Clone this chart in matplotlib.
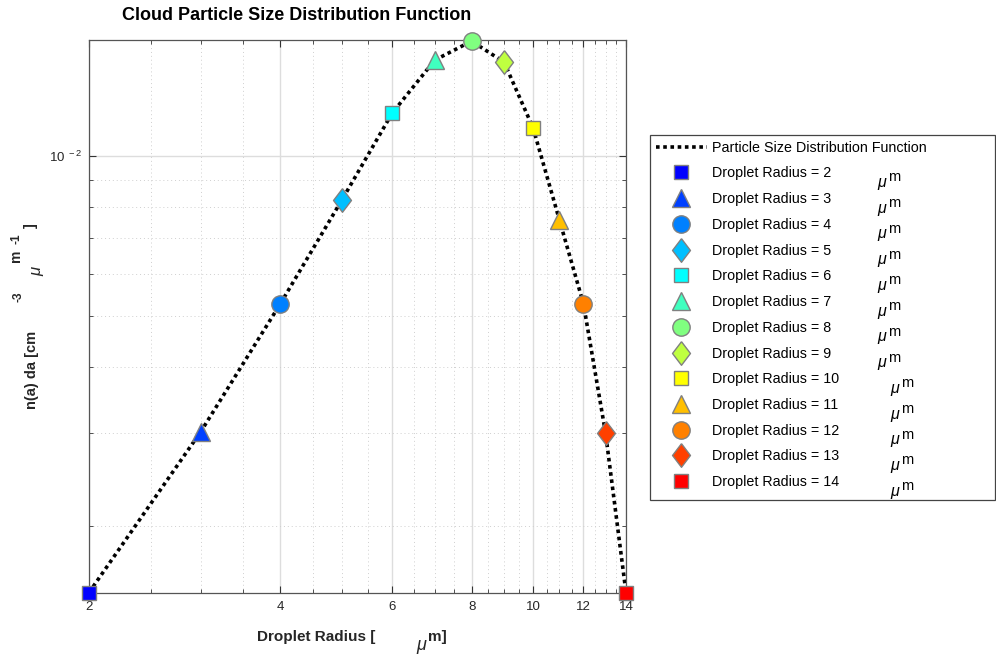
import matplotlib
matplotlib.use("Agg")
import matplotlib.pyplot as plt
from matplotlib.patches import Rectangle
from matplotlib.ticker import FixedLocator, NullFormatter, LogLocator, FixedFormatter, FuncFormatter
import numpy as np

plt.rcParams['font.family'] = ['Liberation Sans', 'DejaVu Sans']

radius = [2, 3, 4, 5, 6, 7, 8, 9, 10, 11, 12, 13, 14]
nda = [1.50e-3, 3.02e-3, 5.26e-3, 8.26e-3, 1.205e-2, 1.517e-2, 1.648e-2,
       1.504e-2, 1.129e-2, 7.57e-3, 5.26e-3, 3.00e-3, 1.50e-3]
x_ticks = [2, 4, 6, 8, 10, 12, 14]
x_ticklabels = ['2', '4', '6', '8', '10', '12', '14']

colors = ['#0000ff', '#0040ff', '#0080ff', '#00bfff', '#00ffff', '#40ffbf',
          '#80ff80', '#bfff40', '#ffff00', '#ffbf00', '#ff8000', '#ff4000', '#ff0000']
diamond = [(0, 1), (0.76, 0), (0, -1), (-0.76, 0), (0, 1)]
markers = ['s', '^', 'o', diamond] * 4
def msize(m):
    if m == 's':
        return 10.5
    if m == '^':
        return 13
    if m == 'o':
        return 12.5
    return 17

W, H = 996, 656
def fx(px):
    return px / W
def fy(py):
    return 1 - py / H

fig = plt.figure(figsize=(W / 100, H / 100), dpi=100)
ax = fig.add_axes([89 / W, 1 - 593 / H, (626 - 89) / W, (593 - 40) / H])
ax.set_xscale('log')
ax.set_yscale('log')

line, = ax.plot(radius, nda, color='black', linestyle=(0, (1, 1)), linewidth=2.6,
                label='Particle Size Distribution Function', zorder=3)
handles = [line]
for i, (r, v) in enumerate(zip(radius, nda)):
    m = markers[i]
    h, = ax.plot([r], [v], linestyle='none', marker=m, markersize=msize(m),
                 markerfacecolor=colors[i], markeredgecolor='#808080',
                 markeredgewidth=1.0, label=f'Droplet Radius = {r}', zorder=4,
                 clip_on=False)
    handles.append(h)

ax.set_xlim(2, 14)
ax.set_ylim(1.497e-3, 1.656e-2)

ax.xaxis.set_major_locator(FixedLocator(x_ticks))
ax.xaxis.set_major_formatter(FixedFormatter(x_ticklabels))
ax.xaxis.set_minor_locator(FixedLocator(list(np.arange(2.5, 14, 0.5))))
ax.xaxis.set_minor_formatter(NullFormatter())
ax.yaxis.set_major_locator(LogLocator(base=10, numticks=10))
ax.yaxis.set_major_formatter(FuncFormatter(
    lambda v, p: r'$\mathregular{10^{\ %d}}$' % int(round(np.log10(v)))))
ax.yaxis.set_minor_locator(LogLocator(base=10, subs=np.arange(2, 10), numticks=20))
ax.yaxis.set_minor_formatter(NullFormatter())

ax.tick_params(which='both', direction='in', top=True, right=True, labelsize=9.5,
               color='#333333', labelcolor='#262626')
ax.tick_params(axis='x', which='major', pad=6)
ax.tick_params(axis='y', which='major', pad=4.5)
ax.tick_params(which='major', length=5, width=0.8)
ax.tick_params(which='minor', length=3, width=0.6)
for s in ax.spines.values():
    s.set_color('#555555')
    s.set_linewidth(0.9)

ax.grid(True, which='major', color='#dddddd', linewidth=1.0, linestyle='-')
ax.grid(True, which='minor', color='#cfcfcf', linewidth=0.7, linestyle=(0, (1, 3)))
ax.set_axisbelow(True)

fig.text(fx(297), fy(15), 'Cloud Particle Size Distribution Function',
         ha='center', va='center', fontsize=13, fontweight='bold')

# x label pieces
lc = '#262626'
fig.text(fx(257), fy(637), 'Droplet Radius [', fontsize=11, fontweight='bold',
         color=lc, ha='left', va='center')
fig.text(fx(416), fy(646), '\u03bc', fontsize=13, style='italic',
         color=lc, ha='left', va='center')
fig.text(fx(428), fy(637), 'm]', fontsize=11, fontweight='bold',
         color=lc, ha='left', va='center')

# y label pieces (rotated)
fig.text(fx(32), fy(370), 'n(a) da [cm', fontsize=10.5, fontweight='bold',
         color=lc, rotation=90, ha='center', va='center')
fig.text(fx(18), fy(297), '-3', fontsize=8.5, fontweight='bold',
         color=lc, rotation=90, ha='center', va='center')
fig.text(fx(37), fy(271), '\u03bc', fontsize=12, style='italic',
         color=lc, rotation=90, ha='center', va='center')
fig.text(fx(16), fy(256), 'm', fontsize=10, fontweight='bold',
         color=lc, rotation=90, ha='center', va='center')
fig.text(fx(16), fy(239), '-1', fontsize=8.5, fontweight='bold',
         color=lc, rotation=90, ha='center', va='center')
fig.text(fx(31), fy(226), ']', fontsize=10.5, fontweight='bold',
         color=lc, rotation=90, ha='center', va='center')

# legend frame
fig.patches.append(Rectangle((fx(650), fy(500)), (995 - 650) / W, (500 - 135) / H,
                             transform=fig.transFigure, facecolor='white',
                             edgecolor='#444444', linewidth=0.9, zorder=1))

labels = [h.get_label() for h in handles]
leg = fig.legend(handles, labels, loc='upper left',
                 bbox_to_anchor=(650 / W, 1 - 135 / H, 345 / W, 0.0),
                 mode='expand', fontsize=10.3, frameon=False,
                 handlelength=3.6, handletextpad=0.35,
                 labelspacing=0.82, borderpad=0.4, borderaxespad=0.0,
                 numpoints=1)

fig.canvas.draw()
renderer = fig.canvas.get_renderer()
texts = leg.get_texts()
for i, t in enumerate(texts[1:]):
    bb = t.get_window_extent(renderer)
    yc = (bb.y0 + bb.y1) / 2
    x0 = 877 if radius[i] < 10 else 890
    fig.text(x0 / W, (yc - 9) / H, '\u03bc', fontsize=11.5, style='italic',
             ha='left', va='center', zorder=10)
    fig.text((x0 + 11) / W, (yc - 4) / H, 'm', fontsize=10.5, ha='left',
             va='center', zorder=10)

fig.savefig('out.png', dpi=100)
